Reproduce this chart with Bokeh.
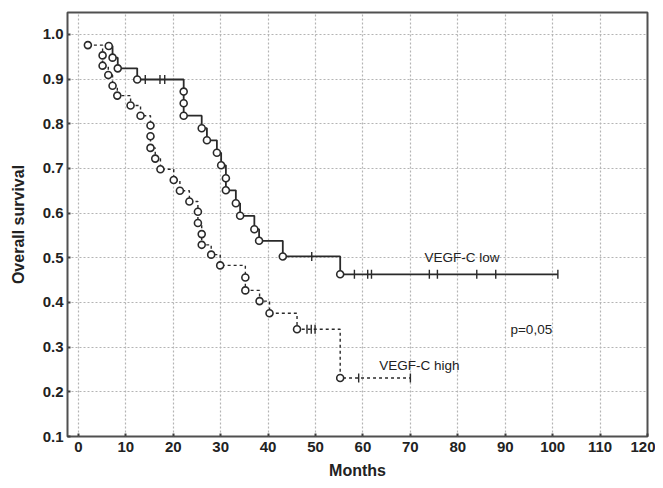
import numpy as np
from bokeh.plotting import figure
from bokeh.models import Range1d, FixedTicker, CustomJSTickFormatter, ColumnDataSource
from bokeh.core.properties import value
from bokeh.embed import file_html
from bokeh.resources import INLINE

# ---- data ----
x_ticks = [0, 10, 20, 30, 40, 50, 60, 70, 80, 90, 100, 110, 120]
y_ticks = [0.1, 0.2, 0.3, 0.4, 0.5, 0.6, 0.7, 0.8, 0.9, 1.0]

low_times = [6.4, 7.2, 8.3, 12.4, 22.2, 22.2, 22.2, 26.0, 27.1, 29.2, 30.1,
             31.1, 31.1, 33.2, 34.1, 37.1, 38.1, 43.1, 55.2]
low_surv = [0.974, 0.948, 0.924, 0.899, 0.872, 0.846, 0.818, 0.790, 0.763,
            0.735, 0.707, 0.678, 0.651, 0.622, 0.594, 0.564, 0.538, 0.503, 0.463]
low_end = 101.1
low_censored = [14.1, 17.2, 18.2, 49.2, 58.2, 61.0, 61.8, 74.0, 75.7, 84.0, 88.0, 101.1]

high_times = [2.0, 5.1, 5.1, 6.3, 7.2, 8.2, 11.0, 13.1, 15.2, 15.2, 15.2, 16.2,
              17.3, 20.1, 21.4, 23.4, 25.2, 25.2, 26.0, 26.0, 28.0, 29.9, 35.2,
              35.2, 38.2, 40.3, 46.1, 55.2]
high_surv = [0.976, 0.953, 0.930, 0.909, 0.885, 0.863, 0.841, 0.818, 0.796,
             0.772, 0.746, 0.722, 0.698, 0.674, 0.650, 0.626, 0.603, 0.578,
             0.553, 0.529, 0.507, 0.483, 0.456, 0.427, 0.403, 0.376, 0.340, 0.231]
high_end = 70.0
high_censored = [48.2, 49.1, 49.9, 59.1, 70.0]

annotations = ["VEGF-C low", "p=0,05", "VEGF-C high"]
annot_x = [80.9, 95.5, 71.9]
annot_y = [0.500, 0.340, 0.260]

x_label = "Months"
y_label = "Overall survival"

# ---- figure ----
INK = "#2a2a2a"
p = figure(width=655, height=484, output_backend="svg", toolbar_location=None,
           x_range=Range1d(-2.3, 120), y_range=Range1d(0.1, 1.049),
           min_border_left=67, min_border_right=8, min_border_top=12,
           min_border_bottom=48, background_fill_color="white",
           border_fill_color="white")
p.outline_line_color = "#505050"
p.outline_line_width = 2
p.outline_line_alpha = 1

for ax in (p.xaxis[0], p.yaxis[0]):
    ax.axis_line_color = None
    ax.major_tick_in = 3
    ax.major_tick_out = 0
    ax.major_tick_line_color = "#404040"
    ax.major_tick_line_width = 2
    ax.minor_tick_line_color = None
    ax.major_label_text_font = "Liberation Sans"
    ax.major_label_text_font_style = "bold"
    ax.major_label_text_font_size = "15px"
    ax.major_label_text_color = "#222222"
    ax.axis_label_text_font = "Liberation Sans"
    ax.axis_label_text_font_style = "bold"
    ax.axis_label_text_font_size = "16px"
    ax.axis_label_text_color = "#222222"

p.xaxis.ticker = FixedTicker(ticks=x_ticks)
p.yaxis.ticker = FixedTicker(ticks=y_ticks)
p.yaxis.formatter = CustomJSTickFormatter(code="return tick.toFixed(1);")
p.xaxis.major_label_standoff = 5
p.yaxis.major_label_standoff = 4
p.xaxis.axis_label_standoff = 7
p.yaxis.axis_label_standoff = 13
p.xaxis.axis_label = x_label
p.yaxis.axis_label = y_label

p.grid.grid_line_color = "#b4b4b4"
p.grid.grid_line_dash = "2 2"
p.grid.grid_line_width = 1.2

# ---- curves ----
def step_value(times, surv, t):
    i = np.searchsorted(np.array(times), t, side="right") - 1
    return surv[i]

# low: solid
p.step(low_times + [low_end], low_surv + [low_surv[-1]], mode="after",
       line_color=INK, line_width=1.8)
p.scatter(low_times, low_surv, size=7, marker="circle", line_color=INK,
          line_width=1.6, fill_color="white")
p.scatter(low_censored, [step_value(low_times, low_surv, c) for c in low_censored],
          marker="dash", angle=np.pi / 2, size=9, line_color=INK, line_width=1.4)

# high: dashed
p.step(high_times + [high_end], high_surv + [high_surv[-1]], mode="after",
       line_color=INK, line_width=1.4, line_dash="3 3")
p.scatter(high_times, high_surv, size=7, marker="circle", line_color=INK,
          line_width=1.6, fill_color="white")
p.scatter(high_censored, [step_value(high_times, high_surv, c) for c in high_censored],
          marker="dash", angle=np.pi / 2, size=9, line_color=INK, line_width=1.4)

# ---- annotations ----
src = ColumnDataSource(dict(x=annot_x, y=annot_y, t=annotations))
p.text(x="x", y="y", text="t", source=src, text_font=value("Liberation Sans"),
       text_font_size="13.5px", text_align="center", text_baseline="middle",
       text_color="#222222")

open("out.html", "w").write(file_html(p, INLINE))
